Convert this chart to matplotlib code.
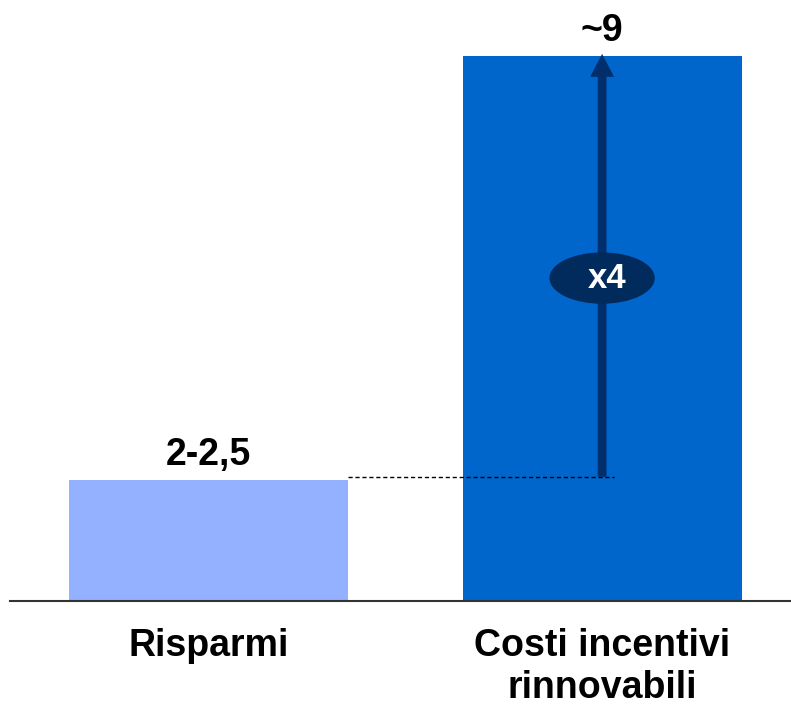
import matplotlib
matplotlib.use("Agg")
import matplotlib.pyplot as plt
from matplotlib.patches import Ellipse

plt.rcParams["font.family"] = ["Liberation Sans", "DejaVu Sans"]

categories = ["Risparmi", "Costi incentivi\nrinnovabili"]
values = [2.0, 9.0]
value_labels = ["2-2,5", "~9"]
bar_colors = ["#93B1FF", "#0066CC"]
multiplier_label = "x4"

fig = plt.figure(figsize=(7.91, 7.05), dpi=100)
ax = fig.add_axes([10 / 791, 104 / 705, 781 / 791, 601 / 705])

x = [0, 1]
ax.bar(x, values, width=0.709, color=bar_colors, zorder=2)

# value labels above the bars
for xi, v, lab in zip(x, values, value_labels):
    ax.text(xi, v + 0.25, lab, ha="center", va="baseline",
            fontsize=27, fontweight="bold", color="black")

# category labels below the axis
for xi, cat in zip(x, categories):
    ax.text(xi, -0.44, cat, ha="center", va="top", fontsize=27,
            fontweight="bold", color="black", linespacing=1.22)

# reference level from the small bar
level = values[0] + 0.05
ax.plot([0.3545, 1.03], [level, level], color="black",
        linestyle=(0, (3, 2)), linewidth=1.0, zorder=3)

# growth arrow
ax.annotate("", xy=(1, values[1] + 0.03), xytext=(1, level),
            arrowprops=dict(arrowstyle="simple,head_width=1.15,head_length=1.1,tail_width=0.42",
                            mutation_scale=15, facecolor="#002F6C", edgecolor="none",
                            linewidth=0, shrinkA=0, shrinkB=0),
            zorder=4)

ell = Ellipse((1, 5.33), width=0.264, height=0.825, color="#002B5C", zorder=5)
ax.add_patch(ell)
ax.text(1.012, 5.33, multiplier_label, ha="center", va="center",
        fontsize=25, fontweight="bold", color="white", zorder=6)

ax.set_xlim(-0.5045, 1.48)
ax.set_ylim(0, 9.92)
ax.set_xticks([])
ax.set_yticks([])
for side in ["top", "right", "left"]:
    ax.spines[side].set_visible(False)
ax.spines["bottom"].set_linewidth(1.5)
ax.spines["bottom"].set_color("#333333")

fig.savefig("out.png", dpi=100)
